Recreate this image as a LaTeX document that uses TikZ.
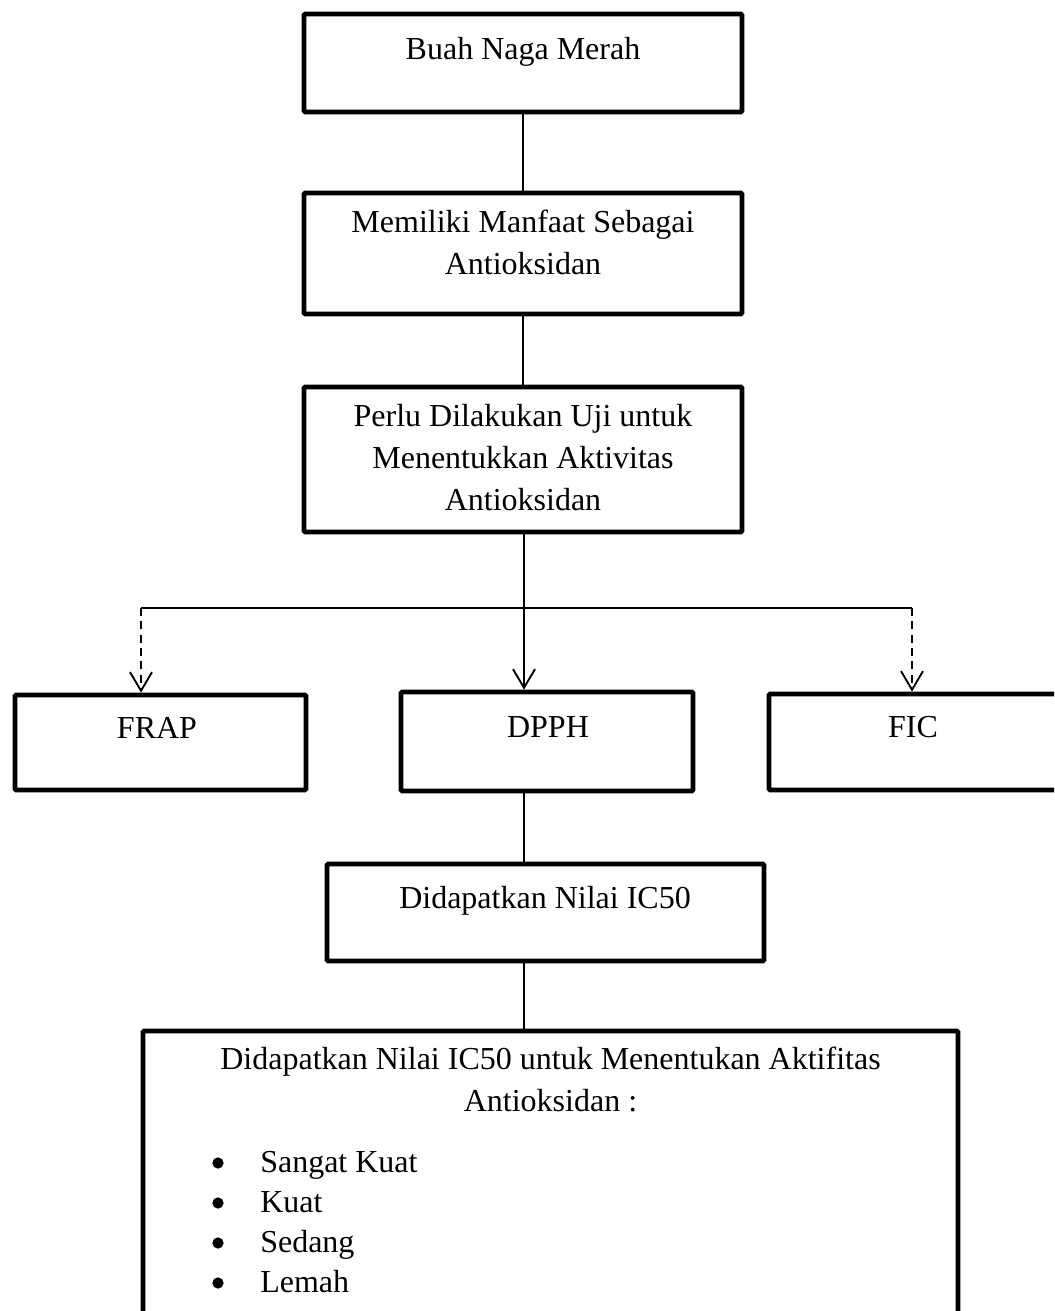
\documentclass[tikz,border=0pt]{standalone}
\usepackage{fontspec}
\setmainfont{Liberation Serif}
\usetikzlibrary{arrows.meta}
\tikzset{
  box/.style = {draw, line width=3.6pt, rounded corners=1pt, inner sep=0pt}
}
\tikzset{
  txt/.style = {inner sep=0pt, align=center}
}
\tikzset{
  link/.style = {line width=1.4pt}
}
\tikzset{
  dot/.style = {circle, fill, inner sep=0pt, minimum size=8.5pt}
}
\tikzset{
  every node/.style = {font = \fontsize{24}{31.5}\selectfont}
}
\tikzset{
    >={Straight Barb[length=14pt,width=16.5pt]}
}

\begin{document}
\begin{tikzpicture}[x=0.75pt, y=-0.75pt]
  \clip (0,0) rectangle (1054,1311);

  \node[box, minimum width=328.5pt, minimum height=73.5pt] (buah) at (523,63) {};
  \node[box, minimum width=328.5pt, minimum height=90.75pt] (manfaat) at (523,253.5) {};
  \node[box, minimum width=328.5pt, minimum height=108.75pt] (uji) at (523,459.5) {};
  \node[box, minimum width=218.25pt, minimum height=71.25pt] (frap) at (160.5,742.5) {};
  \node[box, minimum width=219pt, minimum height=74.25pt] (dpph) at (547,741.5) {};
  \node[box, minimum width=219pt, minimum height=72pt] (fic) at (915,742) {};
  \node[box, minimum width=327.75pt, minimum height=72.75pt] (nilai) at (545.5,912.5) {};
  \node[box, minimum width=611.25pt, minimum height=224.25pt] (aktif) at (550.5,1180.5) {};

  \node[txt, anchor=base] (buahT) at (523,59) {Buah Naga Merah};
  \node[txt, anchor=north] (manfaatT) at (523,210) {Memiliki Manfaat Sebagai\\Antioksidan};
  \node[txt, anchor=north] (ujiT) at (523,404)
    {Perlu Dilakukan Uji untuk\\Menentukkan Aktivitas\\Antioksidan};
  \node[txt, anchor=base] (frapT) at (157,738) {FRAP};
  \node[txt, anchor=base] (dpphT) at (548,737) {DPPH};
  \node[txt, anchor=base] (ficT) at (913,737) {FIC};
  \node[txt, anchor=base] (nilaiT) at (545,908) {Didapatkan Nilai IC50};
  \node[txt, anchor=north] (aktifT) at (550.5,1047)
    {Didapatkan Nilai IC50 untuk Menentukan Aktifitas\\Antioksidan :};

  \foreach \lvl [count=\i] in {Sangat Kuat, Kuat, Sedang, Lemah} {
    \node[dot] (dot\i) at (218,{1163+40*(\i-1)}) {};
    \node[txt, anchor=base west] (lvl\i) at (260,{1172+40*(\i-1)}) {\lvl};
  }

  \coordinate (split) at (524,608);
  \coordinate (lft) at (141,608);
  \coordinate (rgt) at (912,608);

  \draw[link] (buah) -- (manfaat);
  \draw[link] (manfaat) -- (uji);
  \draw[link] (uji.south -| split) -- (split);
  \draw[link] (lft) -- (rgt);
  \draw[link, ->] (split) -- (split |- dpph.north);
  \draw[link, dash pattern=on 6pt off 4pt, ->] (lft) -- (lft |- frap.north);
  \draw[link, dash pattern=on 6pt off 4pt, ->] (rgt) -- (rgt |- fic.north);
  \draw[link] (dpph.south -| split) -- (nilai.north -| split);
  \draw[link] (nilai.south -| split) -- (aktif.north -| split);
\end{tikzpicture}
\end{document}
